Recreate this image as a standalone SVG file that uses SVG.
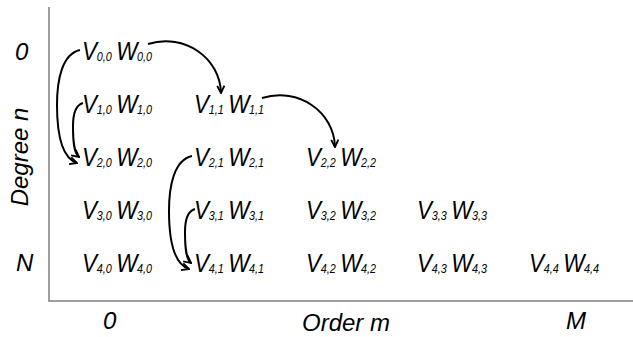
<svg xmlns="http://www.w3.org/2000/svg" width="633" height="337" viewBox="0 0 633 337">
  <style>
    .t { font-family: "Liberation Sans", Arial, sans-serif; font-style: italic; fill: #000; }
    .m { font-size: 25px; }
    .s { font-size: 12px; }
    .ax { font-family: "Liberation Sans", Arial, sans-serif; font-style: italic; font-size: 24px; fill: #000; }
    .axis { stroke: #7f7f7f; stroke-width: 1.5; fill: none; }
    .link { stroke: #000; stroke-width: 2; fill: none; marker-end: url(#arr); }
  </style>
  <defs>
    <marker id="arr" viewBox="0 0 10 10" refX="9" refY="5" markerWidth="9" markerHeight="9" markerUnits="userSpaceOnUse" orient="auto">
      <path d="M1,1 L9,5 L1,9" fill="none" stroke="#000" stroke-width="2.1"/>
    </marker>
    <!-- one V/W pair, horizontally condensed; placed by translate -->
  </defs>

  <!-- axes -->
  <g id="axes">
    <line class="axis" x1="49" y1="7" x2="49" y2="301"/>
    <line class="axis" x1="48.25" y1="301" x2="633" y2="301"/>
    <text class="ax" x="15" y="60">0</text>
    <text class="ax" x="16" y="271">N</text>
    <text class="ax" text-anchor="middle" transform="translate(28,157) rotate(-90)">Degree n</text>
    <text class="ax" x="103" y="329">0</text>
    <text class="ax" x="302" y="331">Order m</text>
    <text class="ax" x="566" y="329">M</text>
  </g>

  <!-- cells: local x in condensed units (scale 0.9) -->
  <g id="n00" transform="translate(82,60) scale(0.9,1)"><text class="t"><tspan class="m" x="0">V</tspan><tspan class="s" x="16.5" dy="1">0,0</tspan><tspan class="m" x="38" dy="-1">W</tspan><tspan class="s" x="61" dy="1">0,0</tspan></text></g>
  <g id="n10" transform="translate(82,113) scale(0.9,1)"><text class="t"><tspan class="m" x="0">V</tspan><tspan class="s" x="16.5" dy="1">1,0</tspan><tspan class="m" x="38" dy="-1">W</tspan><tspan class="s" x="61" dy="1">1,0</tspan></text></g>
  <g id="n11" transform="translate(194,113) scale(0.9,1)"><text class="t"><tspan class="m" x="0">V</tspan><tspan class="s" x="16.5" dy="1">1,1</tspan><tspan class="m" x="38" dy="-1">W</tspan><tspan class="s" x="61" dy="1">1,1</tspan></text></g>
  <g id="n20" transform="translate(82,166) scale(0.9,1)"><text class="t"><tspan class="m" x="0">V</tspan><tspan class="s" x="16.5" dy="1">2,0</tspan><tspan class="m" x="38" dy="-1">W</tspan><tspan class="s" x="61" dy="1">2,0</tspan></text></g>
  <g id="n21" transform="translate(194,166) scale(0.9,1)"><text class="t"><tspan class="m" x="0">V</tspan><tspan class="s" x="16.5" dy="1">2,1</tspan><tspan class="m" x="38" dy="-1">W</tspan><tspan class="s" x="61" dy="1">2,1</tspan></text></g>
  <g id="n22" transform="translate(306,166) scale(0.9,1)"><text class="t"><tspan class="m" x="0">V</tspan><tspan class="s" x="16.5" dy="1">2,2</tspan><tspan class="m" x="38" dy="-1">W</tspan><tspan class="s" x="61" dy="1">2,2</tspan></text></g>
  <g id="n30" transform="translate(82,219) scale(0.9,1)"><text class="t"><tspan class="m" x="0">V</tspan><tspan class="s" x="16.5" dy="1">3,0</tspan><tspan class="m" x="38" dy="-1">W</tspan><tspan class="s" x="61" dy="1">3,0</tspan></text></g>
  <g id="n31" transform="translate(194,219) scale(0.9,1)"><text class="t"><tspan class="m" x="0">V</tspan><tspan class="s" x="16.5" dy="1">3,1</tspan><tspan class="m" x="38" dy="-1">W</tspan><tspan class="s" x="61" dy="1">3,1</tspan></text></g>
  <g id="n32" transform="translate(306,219) scale(0.9,1)"><text class="t"><tspan class="m" x="0">V</tspan><tspan class="s" x="16.5" dy="1">3,2</tspan><tspan class="m" x="38" dy="-1">W</tspan><tspan class="s" x="61" dy="1">3,2</tspan></text></g>
  <g id="n33" transform="translate(417,219) scale(0.9,1)"><text class="t"><tspan class="m" x="0">V</tspan><tspan class="s" x="16.5" dy="1">3,3</tspan><tspan class="m" x="38" dy="-1">W</tspan><tspan class="s" x="61" dy="1">3,3</tspan></text></g>
  <g id="n40" transform="translate(82,272) scale(0.9,1)"><text class="t"><tspan class="m" x="0">V</tspan><tspan class="s" x="16.5" dy="1">4,0</tspan><tspan class="m" x="38" dy="-1">W</tspan><tspan class="s" x="61" dy="1">4,0</tspan></text></g>
  <g id="n41" transform="translate(194,272) scale(0.9,1)"><text class="t"><tspan class="m" x="0">V</tspan><tspan class="s" x="16.5" dy="1">4,1</tspan><tspan class="m" x="38" dy="-1">W</tspan><tspan class="s" x="61" dy="1">4,1</tspan></text></g>
  <g id="n42" transform="translate(306,272) scale(0.9,1)"><text class="t"><tspan class="m" x="0">V</tspan><tspan class="s" x="16.5" dy="1">4,2</tspan><tspan class="m" x="38" dy="-1">W</tspan><tspan class="s" x="61" dy="1">4,2</tspan></text></g>
  <g id="n43" transform="translate(417,272) scale(0.9,1)"><text class="t"><tspan class="m" x="0">V</tspan><tspan class="s" x="16.5" dy="1">4,3</tspan><tspan class="m" x="38" dy="-1">W</tspan><tspan class="s" x="61" dy="1">4,3</tspan></text></g>
  <g id="n44" transform="translate(529,272) scale(0.9,1)"><text class="t"><tspan class="m" x="0">V</tspan><tspan class="s" x="16.5" dy="1">4,4</tspan><tspan class="m" x="38" dy="-1">W</tspan><tspan class="s" x="61" dy="1">4,4</tspan></text></g>

  <!-- recursion connectors -->
  <g id="connectors">
    <path class="link" d="M148,44 C185,33 220,58 221,93"/>
    <path class="link" d="M262,98 C299,87 334,112 335,147"/>
    <path class="link" d="M80,50 C62,54 57,80 57,105 C57,135 62,158 77,163"/>
    <path class="link" d="M83,103 C76,105 73,114 73,126 C73,142 74,153 79,157"/>
    <path class="link" d="M192,156 C174,160 169,186 169,211 C169,241 174,264 189,269"/>
    <path class="link" d="M195,209 C188,211 185,220 185,232 C185,248 186,259 191,263"/>
  </g>
</svg>
